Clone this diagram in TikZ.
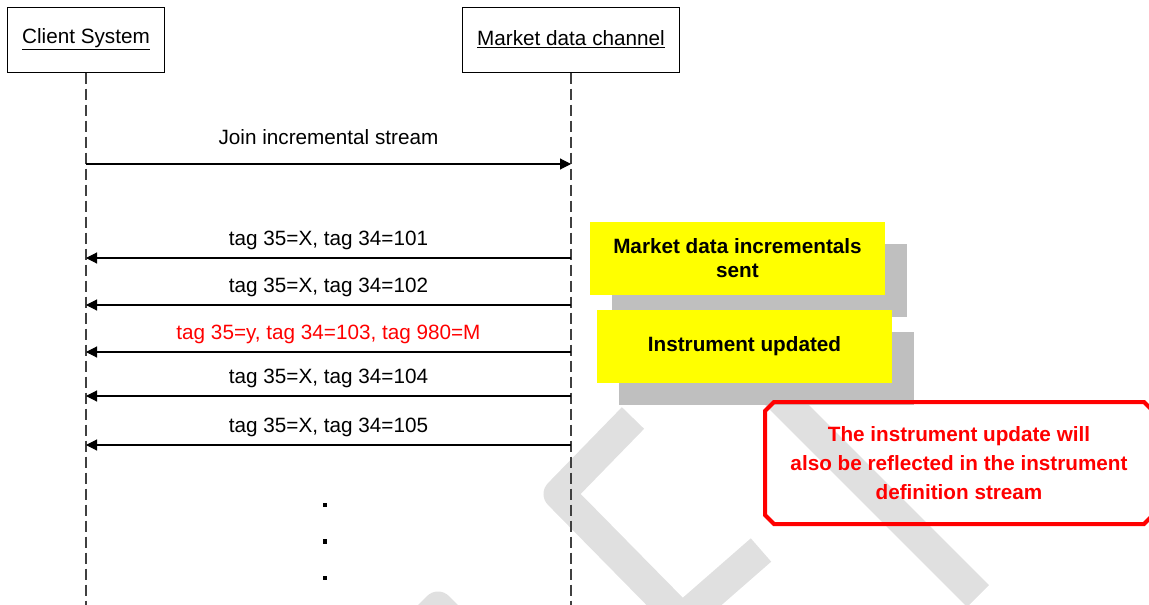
\documentclass[tikz,border=0pt]{standalone}
\usepackage{fontspec}
\setmainfont{Liberation Sans}
\usetikzlibrary{arrows.meta,calc,shadows,shapes.misc}
\definecolor{NoteClr}{rgb}{1,1,0}
\definecolor{ShadowClr}{rgb}{0.75,0.75,0.75}
\definecolor{WmkClr}{rgb}{0.88,0.88,0.88}
\definecolor{WarnClr}{rgb}{1,0,0}

\begin{document}
\begin{tikzpicture}[x=1pt,y=-1pt,
  font=\fontsize{20.7}{24}\selectfont,
  actor/.style={draw=black,line width=1pt,fill=white,minimum width=#1,minimum height=65pt,inner sep=0pt},
  lifeline/.style={draw=black!75,line width=1.3pt,dash pattern=on 11pt off 5pt},
  msg/.style={draw=black,line width=1.1pt,-{Triangle[length=11pt,width=11pt]}},
  msglabel/.style={above=#1,inner sep=0pt,text depth=4.5pt},
  msglabel/.default=7.5pt,
  notebox/.style={fill=NoteClr,minimum width=295pt,minimum height=73pt,inner sep=0pt,align=center,
    font=\fontsize{20.7}{24}\selectfont\bfseries,
    drop shadow={fill=ShadowClr,opacity=1,shadow xshift=22pt,shadow yshift=-22pt}},
  warnbox/.style={chamfered rectangle,chamfered rectangle xsep=4.5pt,chamfered rectangle ysep=4.5pt,
    draw=WarnClr,line width=4pt,minimum width=388pt,minimum height=122pt,inner sep=0pt,align=center,
    text=WarnClr,font=\fontsize{20.7}{29}\selectfont\bfseries},
  wmark/.style={draw=WmkClr,line width=31pt,line join=round},
  dotnode/.style={fill=black,inner sep=0pt,minimum size=4.5pt}
]
\useasboundingbox (0,0) rectangle (1149,605);
\clip (0,0) rectangle (1149,605);

\draw[wmark] (633,418) -- (559,494) -- (682,619) -- (761,550);
\draw[wmark] (770,388) -- (978,596);
\draw[wmark] (395,650) -- (438,607) -- (481,650);

\node[actor=157pt] (client) at (86,39.5) {\underline{Client System}};
\node[actor=217pt] (channel) at (571,39.5) {\underline{Market data channel}};
\coordinate (clientEnd) at (86,605);
\coordinate (channelEnd) at (571,605);
\draw[lifeline] (client.south) -- (clientEnd);
\draw[lifeline] (channel.south) -- (channelEnd);

\coordinate (c0) at (86,164);
\coordinate (m0) at (571,164);
\draw[msg] (c0) -- node[msglabel=14.5pt]{Join incremental stream} (m0);

\foreach \i/\y/\txt/\clr in {1/258/{tag 35=X, tag 34=101}/black,
  2/305/{tag 35=X, tag 34=102}/black,
  3/352/{tag 35=y, tag 34=103, tag 980=M}/WarnClr,
  4/396/{tag 35=X, tag 34=104}/black,
  5/445/{tag 35=X, tag 34=105}/black}{
  \coordinate (m\i) at (571,\y);
  \coordinate (c\i) at (86,\y);
  \draw[msg] (m\i) -- node[msglabel,text=\clr]{\txt} (c\i);
}

\foreach \i/\y in {1/505,2/541.5,3/578}
  \node[dotnode] (dot\i) at (325,\y) {};

\node[notebox] (sent) at (737.5,258.5) {Market data incrementals\\sent};
\node[notebox] (updated) at (744.5,346.5) {Instrument updated};

\node[warnbox] (warn) at (959,463) {The instrument update will\\also be reflected in the instrument\\definition stream};

\end{tikzpicture}
\end{document}
